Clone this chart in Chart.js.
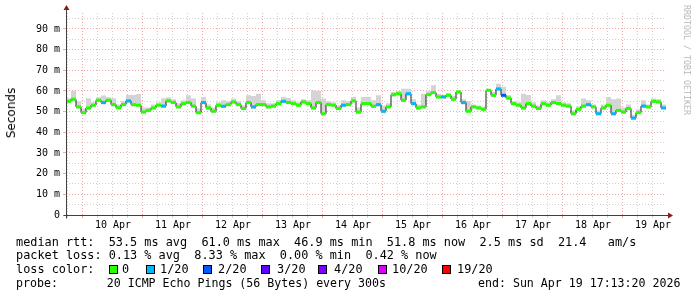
<!DOCTYPE html>
<html>
<head>
<meta charset="utf-8">
<script src="https://cdn.jsdelivr.net/npm/chart.js@4/dist/chart.umd.min.js"></script>
<style>
  html, body { margin: 0; padding: 0; background: #ffffff; }
  #wrap { position: relative; width: 697px; height: 297px; overflow: hidden; background: #fff; }
  #c { position: absolute; left: 0; top: 0; }
  .t { position: absolute; font-family: "DejaVu Sans Mono", monospace; font-size: 11.85px; line-height: 14px; color: #000; white-space: pre; }
  .box { position: absolute; width: 7px; height: 7px; border: 1px solid #000; }
  .rot { position: absolute; white-space: nowrap; transform: translate(-50%, -50%) rotate(-90deg); }
</style>
</head>
<body>
<div id="wrap">
  <canvas id="c" width="697" height="297"></canvas>
  <div class="rot" style="left:11px;top:113px;font-family:'DejaVu Sans',sans-serif;font-size:12px;color:#000;">Seconds</div>
  <div class="rot" style="left:687px;top:60px;font-family:'DejaVu Sans Mono',monospace;font-size:8.3px;color:#b8b8b8;transform:translate(-50%,-50%) rotate(90deg);">RRDTOOL / TOBI OETIKER</div>
  <div class="t" style="left:16px;top:235px;">median rtt:  53.5 ms avg  61.0 ms max  46.9 ms min  51.8 ms now  2.5 ms sd  21.4   am/s</div>
  <div class="t" style="left:16px;top:248px;">packet loss: 0.13 % avg  8.33 % max  0.00 % min  0.42 % now</div>
  <div id="lossline"></div>
  <div class="t" style="left:16px;top:276px;font-size:11.6px;">probe:       20 ICMP Echo Pings (56 Bytes) every 300s</div>
  <div class="t" style="left:478px;top:276px;font-size:11.6px;">end: Sun Apr 19 17:13:20 2026</div>
</div>
<script>
// ---- data (2-hour samples, 10 days ending Sun Apr 19 17:13:20 2026) ----
const medianMs = [
  55.0,56.0,52.3,49.5,51.8,53.1,55.5,54.4,55.5,53.4,51.9,53.4,55.2,53.4,53.1,49.8,50.6,51.8,53.1,52.7,55.2,54.4,52.3,53.9,
  54.4,52.7,49.5,54.4,51.8,50.2,53.1,52.6,53.4,54.7,53.4,51.5,54.4,52.3,53.4,53.4,52.3,52.7,53.9,55.0,54.4,53.9,53.1,54.7,
  53.9,51.8,54.4,49.0,53.4,53.1,51.5,53.1,53.4,55.2,49.8,53.9,53.9,52.6,53.4,50.2,52.3,58.2,58.7,55.5,58.7,53.9,51.8,52.3,
  58.2,59.2,57.1,57.1,57.9,56.0,59.5,54.4,50.2,52.3,51.8,51.1,60.3,57.9,61.0,57.9,56.6,53.9,53.1,51.8,53.9,52.7,51.5,53.9,
  53.1,54.4,53.9,53.1,52.7,49.0,51.1,52.7,53.4,52.3,49.0,51.8,53.1,49.0,50.6,49.8,51.5,46.9,49.5,52.7,52.3,55.0,54.7,51.8
];
const smokeHiMs = [
  56.5,60.0,55.0,51.5,56.5,54.5,57.0,57.8,57.0,56.5,53.5,55.0,58.0,58.0,58.5,52.0,52.0,53.5,54.5,56.5,57.0,56.0,54.0,55.5,
  57.9,56.3,51.5,57.1,53.5,52.0,54.5,55.5,55.0,56.3,55.0,53.0,57.9,57.5,58.7,55.5,54.0,54.0,55.5,57.1,56.6,55.5,54.5,56.0,
  55.5,60.3,60.0,56.3,55.0,54.5,53.0,55.5,55.0,57.1,52.0,57.1,57.1,55.5,57.9,53.0,54.0,59.5,60.0,61.1,61.1,56.0,53.5,58.7,
  60.0,62.7,58.7,58.0,59.0,57.5,60.5,56.0,55.0,53.5,53.0,52.5,61.0,59.5,63.5,62.0,58.0,55.0,54.5,58.7,58.0,54.5,53.0,55.5,
  54.5,56.0,57.9,54.5,54.0,50.5,52.5,56.3,55.5,53.5,50.5,53.4,57.1,56.0,56.3,52.0,53.4,48.5,51.0,55.5,53.5,56.3,56.0,53.5
];
const smokeLoMs = [
  54.2,55.0,51.5,48.8,51.0,52.3,54.6,53.5,54.7,52.6,51.2,52.6,54.3,52.6,52.3,49.0,49.9,51.0,52.3,51.8,54.4,53.6,51.5,53.1,
  53.6,51.9,48.7,53.4,51.0,49.4,52.3,51.7,52.6,53.9,52.6,50.7,53.6,51.3,52.6,52.6,51.5,51.9,53.1,54.0,53.6,53.1,52.3,53.9,
  53.1,51.0,53.6,48.2,52.6,52.3,50.7,52.2,52.6,54.4,49.0,53.1,53.1,51.8,52.5,49.2,51.5,57.3,57.9,54.7,57.7,53.0,51.0,51.5,
  57.4,58.4,56.3,56.2,57.1,55.2,58.7,53.5,49.4,51.5,51.0,50.3,59.5,57.1,60.0,56.9,55.8,53.1,52.3,51.0,53.1,51.9,50.7,53.1,
  52.3,53.6,53.1,52.3,51.9,48.2,50.3,51.9,52.5,51.5,48.1,51.0,52.3,48.1,49.8,49.0,50.7,46.0,48.7,51.8,51.5,54.2,53.9,51.0
];
const lossCount = [
  0,0,0,0,0,0,0,1,0,0,0,0,1,0,0,0,0,0,0,1,0,0,0,0,
  0,0,0,1,0,0,0,1,0,0,0,0,0,1,0,0,0,0,0,1,0,0,0,0,
  0,0,0,0,0,0,0,1,0,0,0,0,0,0,1,1,0,0,0,0,1,1,0,0,
  0,0,0,1,0,0,0,1,0,0,0,0,0,0,1,2,0,0,0,0,0,0,0,0,
  0,0,0,0,0,0,0,0,1,0,1,0,0,1,0,0,0,1,0,1,0,0,0,1
];
const dayLabels = ['10 Apr','11 Apr','12 Apr','13 Apr','14 Apr','15 Apr','16 Apr','17 Apr','18 Apr','19 Apr'];
const lossLegend = ['0','1/20','2/20','3/20','4/20','10/20','19/20'];
const yTickValues = [0,5,10,15,20,25,30,35,40,45,50,55,60,65,70,75,80,85,90,95];

// ---- styling / layout ----
const lossLevels = [0,1,2,3,4,10,19];
const lossColors = ['#26ff00','#00b8ff','#0059ff','#5e00ff','#7e00ff','#dd00ff','#ff0000'];
function lossColor(n){ let c = lossColors[0]; lossLevels.forEach((l,i)=>{ if(n>=l) c = lossColors[i]; }); return c; }
const stepH = 2;           // hours per sample
const spanH = 240;         // 10 days
const firstMidnightH = 6 + 46/60 + 40/3600; // from 17:13:20 to 00:00
const gridStartH = firstMidnightH - 6;
const gridHours = [];
for (let h = gridStartH; h < spanH; h += 6) gridHours.push(h);

const majorGrid = 'rgba(224,80,80,0.5)';
const minorGrid = 'rgba(150,150,150,0.45)';

// legend (loss color line)
const boxX = [109,146,203,261,318,378,442];
const labX = [122,160,218,277,334,392,457];
let html = '<div class="t" style="left:16px;top:262px;">loss color:</div>';
lossLegend.forEach((lab,i)=>{
  html += '<div class="box" style="left:'+boxX[i]+'px;top:265px;background:'+lossColors[i]+'"></div>';
  html += '<div class="t" style="left:'+labX[i]+'px;top:262px;">'+lab+'</div>';
});
document.getElementById('lossline').innerHTML = html;

const n = medianMs.length;
const stepPts = medianMs.map((v,i)=>({x:i*stepH, y:v})); stepPts.push({x:n*stepH, y:medianMs[n-1]});
const hiPts = smokeHiMs.map((v,i)=>({x:i*stepH, y:v})); hiPts.push({x:n*stepH, y:smokeHiMs[n-1]});
const loPts = smokeLoMs.map((v,i)=>({x:i*stepH, y:v})); loPts.push({x:n*stepH, y:smokeLoMs[n-1]});
const midPts = medianMs.map((v,i)=>({x:i*stepH + stepH/2, y:v}));

const axisPlugin = {
  id: 'rrdAxes',
  afterDraw(chart){
    const {ctx, chartArea:a} = chart;
    const L = Math.round(a.left) + 0.5, B = Math.round(a.bottom) + 0.5;
    ctx.save();
    ctx.strokeStyle = '#404040'; ctx.lineWidth = 1;
    ctx.beginPath();
    ctx.moveTo(L, B + 3); ctx.lineTo(L, a.top - 3);
    ctx.moveTo(L - 3, B); ctx.lineTo(a.right + 3, B);
    ctx.stroke();
    ctx.fillStyle = '#8b1a1a';
    ctx.beginPath();
    ctx.moveTo(L, a.top - 8); ctx.lineTo(L - 3, a.top - 3); ctx.lineTo(L + 3, a.top - 3); ctx.closePath(); ctx.fill();
    ctx.beginPath();
    ctx.moveTo(a.right + 7, B); ctx.lineTo(a.right + 2, B - 3); ctx.lineTo(a.right + 2, B + 3); ctx.closePath(); ctx.fill();
    ctx.restore();
  }
};

new Chart(document.getElementById('c'), {
  type: 'line',
  data: {
    datasets: [
      { data: midPts, showLine: false, pointStyle: 'line', pointRadius: 2.5, pointHoverRadius: 2.5,
        pointBorderWidth: 3, pointBorderColor: lossCount.map(lossColor), pointBackgroundColor: lossCount.map(lossColor) },
      { data: stepPts, stepped: 'before', borderColor: '#202020', borderWidth: 1, pointRadius: 0, fill: false },
      { data: loPts, stepped: 'before', borderWidth: 0, borderColor: 'rgba(0,0,0,0)', pointRadius: 0, fill: false },
      { data: hiPts, stepped: 'before', borderWidth: 0, borderColor: 'rgba(0,0,0,0)', pointRadius: 0, fill: '-1', backgroundColor: '#d4d4d4' }
    ]
  },
  options: {
    responsive: false, animation: false, devicePixelRatio: 1,
    layout: { padding: { top: 13, right: 31, left: 0, bottom: 0 } },
    plugins: { legend: { display: false }, tooltip: { enabled: false }, title: { display: false } },
    scales: {
      x: {
        type: 'linear', min: 0, max: spanH,
        afterFit(s){ s.height = 82; },
        afterBuildTicks(s){ s.ticks = gridHours.map(v=>({value:v})); },
        ticks: {
          autoSkip: false, maxRotation: 0, padding: 1, color: '#000',
          font: { family: 'DejaVu Sans Mono', size: 10 },
          callback(v, idx){ return (idx % 4 === 3) ? dayLabels[(idx - 3) / 4] : ''; }
        },
        grid: {
          color(c){ return (c.index % 4 === 1) ? majorGrid : minorGrid; },
          tickColor(c){ return (c.index % 4 === 1) ? majorGrid : minorGrid; },
          tickLength: 3, lineWidth: 1
        },
        border: { display: false, dash: [1,2] }
      },
      y: {
        type: 'linear', min: 0, max: 97.7,
        afterFit(s){ s.width = 66; },
        afterBuildTicks(s){ s.ticks = yTickValues.map(v=>({value:v})); },
        ticks: {
          padding: 3, color: '#000', autoSkip: false,
          font: { family: 'DejaVu Sans Mono', size: 10 },
          callback(v){ return v === 0 ? '0' : (v % 10 === 0 ? v + ' m' : ''); }
        },
        grid: {
          color(c){ return (c.tick && c.tick.value % 10 === 0) ? majorGrid : minorGrid; },
          tickColor(c){ return (c.tick && c.tick.value % 10 === 0) ? majorGrid : 'rgba(0,0,0,0)'; },
          tickLength: 3, lineWidth: 1
        },
        border: { display: false, dash: [1,2] }
      }
    }
  },
  plugins: [axisPlugin]
});
</script>
</body>
</html>
